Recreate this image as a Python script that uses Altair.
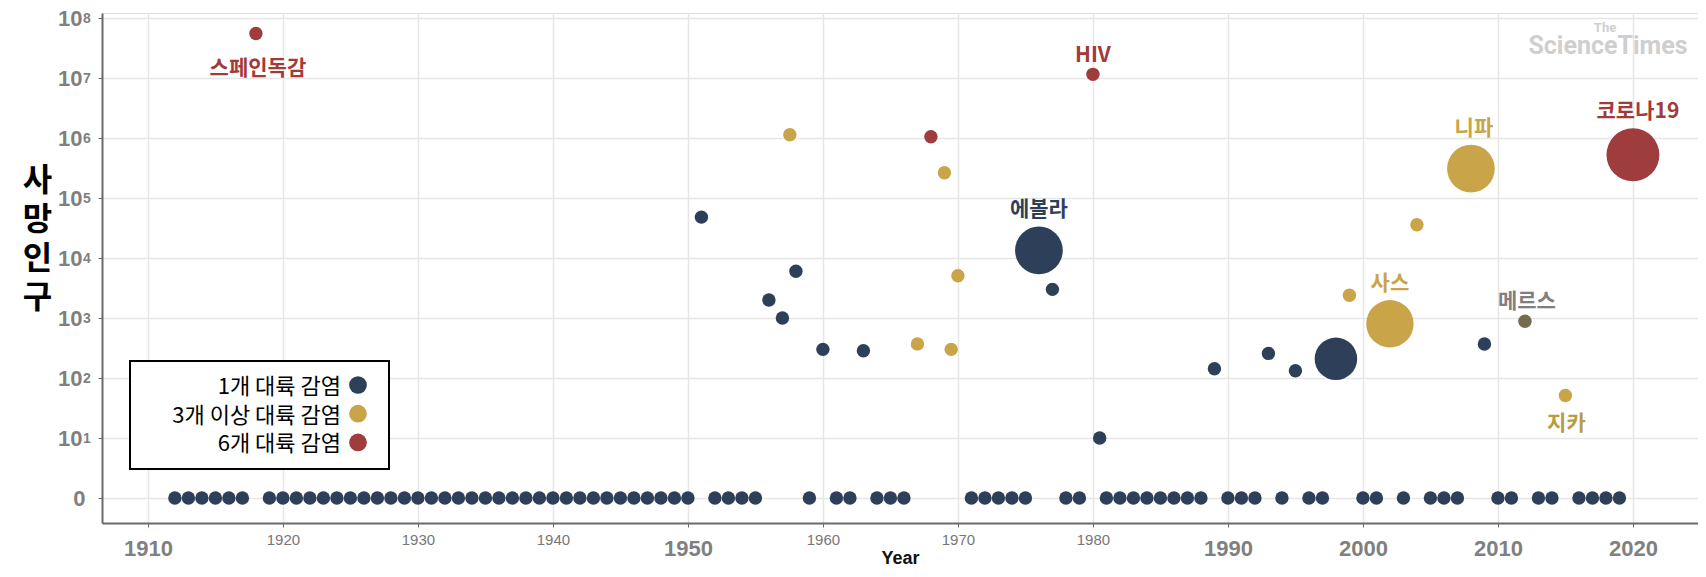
import altair as alt
import pandas as pd

# ---------------- data ----------------
zero_years = [1912, 1913, 1914, 1915, 1916, 1917,
              1919, 1920, 1921, 1922, 1923, 1924, 1925, 1926, 1927, 1928, 1929,
              1930, 1931, 1932, 1933, 1934, 1935, 1936, 1937, 1938, 1939,
              1940, 1941, 1942, 1943, 1944, 1945, 1946, 1947, 1948, 1949, 1950,
              1952, 1953, 1954, 1955, 1959, 1961, 1962, 1964, 1965, 1966,
              1971, 1972, 1973, 1974, 1975, 1978, 1979,
              1981, 1982, 1983, 1984, 1985, 1986, 1987, 1988,
              1990, 1991, 1992, 1994, 1996, 1997, 2000, 2001, 2003,
              2005, 2006, 2007, 2010, 2011, 2013, 2014, 2016, 2017, 2018, 2019]

outbreak_years = [1918, 1951, 1956, 1957, 1957.55, 1958, 1960, 1963, 1967, 1968,
                  1969, 1969.5, 1970, 1976, 1977, 1980, 1980.5, 1989, 1993, 1995,
                  1998, 1999, 2002, 2004, 2008, 2009, 2012, 2015, 2020]
outbreak_deaths = [55000000, 48000, 2000, 1000, 1130000, 6000, 300, 285, 370, 1050000,
                   263000, 300, 5070, 13400, 3000, 11500000, 10, 143, 257, 132,
                   209, 2400, 800, 35900, 309000, 369, 881, 51, 525000]
outbreak_spread = ["6개 대륙 감염", "1개 대륙 감염", "1개 대륙 감염", "1개 대륙 감염",
                   "3개 이상 대륙 감염", "1개 대륙 감염", "1개 대륙 감염", "1개 대륙 감염",
                   "3개 이상 대륙 감염", "6개 대륙 감염", "3개 이상 대륙 감염",
                   "3개 이상 대륙 감염", "3개 이상 대륙 감염", "1개 대륙 감염",
                   "1개 대륙 감염", "6개 대륙 감염", "1개 대륙 감염", "1개 대륙 감염",
                   "1개 대륙 감염", "1개 대륙 감염", "1개 대륙 감염", "3개 이상 대륙 감염",
                   "3개 이상 대륙 감염", "3개 이상 대륙 감염", "3개 이상 대륙 감염",
                   "1개 대륙 감염", "기타", "3개 이상 대륙 감염", "6개 대륙 감염"]
outbreak_impact = [1, 1, 1, 1, 1, 1, 1, 1, 1, 1,
                   1, 1, 1, 8.2, 1, 1, 1, 1, 1, 1,
                   6.6, 1, 8.1, 1, 8.2, 1, 1, 1, 10]
outbreak_names = ["스페인독감", "", "", "", "", "", "", "", "", "",
                  "", "", "", "에볼라", "", "HIV", "", "", "", "",
                  "", "", "사스", "", "니파", "", "메르스", "지카", "코로나19"]

categories = ["1개 대륙 감염", "3개 이상 대륙 감염", "6개 대륙 감염", "기타"]
cat_colors = ["#2e4059", "#c9a449", "#9e3c3e", "#736d4f"]
legend_items = ["1개 대륙 감염", "3개 이상 대륙 감염", "6개 대륙 감염"]

x_ticks = [1910, 1920, 1930, 1940, 1950, 1960, 1970, 1980, 1990, 2000, 2010, 2020]
small_ticks = [1920, 1930, 1940, 1960, 1970, 1980]
y_ticks = [0, 1, 2, 3, 4, 5, 6, 7, 8]
y_exp_ticks = [1, 2, 3, 4, 5, 6, 7, 8]
y_exp_labels = ["1", "2", "3", "4", "5", "6", "7", "8"]

rows = []
for yr in zero_years:
    rows.append({"year": yr, "deaths": 0, "spread": "1개 대륙 감염", "impact": 1, "name": ""})
for yr, d, s, imp, n in zip(outbreak_years, outbreak_deaths, outbreak_spread,
                            outbreak_impact, outbreak_names):
    rows.append({"year": yr, "deaths": d, "spread": s, "impact": imp, "name": n})
df = pd.DataFrame(rows)

# ---------------- chart ----------------
KFONT = "Noto Sans CJK KR"
small_test = "indexof(" + str(small_ticks) + ", datum.value) >= 0"

xscale = alt.Scale(domain=[1906.6, 2024.82], nice=False, zero=False)
yscale = alt.Scale(domain=[-25 / 60, 8 + 5 / 60], nice=False, zero=False)

base = alt.Chart(df).transform_calculate(
    logd="datum.deaths > 0 ? log(datum.deaths) / LN10 : 0"
)

points = base.mark_circle(opacity=1).encode(
    x=alt.X("year:Q", scale=xscale,
            axis=alt.Axis(values=x_ticks, format="d", title="Year",
                          titleFontSize=18, titleFontWeight="bold", titleColor="#111",
                          titleFont="Liberation Sans", titleY=35, titleBaseline="middle",
                          labelFont="Liberation Sans",
                          labelFontSize={"condition": {"test": small_test, "value": 15}, "value": 22},
                          labelFontWeight={"condition": {"test": small_test, "value": "normal"}, "value": "bold"},
                          labelColor={"condition": {"test": small_test, "value": "#777777"}, "value": "#808080"},
                          labelPadding={"condition": {"test": small_test, "value": 5}, "value": 11},
                          gridColor="#e6e6e6", gridWidth=1.5,
                          domainColor="#6b6b6b", domainWidth=2,
                          tickColor="#6b6b6b", tickSize=4)),
    y=alt.Y("logd:Q", scale=yscale,
            axis=alt.Axis(values=y_ticks, labelExpr="datum.value == 0 ? '0' : '10'",
                          title=["사", "망", "인", "구"], titleAngle=0,
                          titleFontSize=32, titleFontWeight="bold", titleColor="#000",
                          titleFont=KFONT, titleLineHeight=39,
                          titleX=-65, titleY=167, titleAlign="center", titleBaseline="middle",
                          labelFont="Liberation Sans", labelFontSize=22, labelFontWeight="bold",
                          labelColor="#808080",
                          labelPadding={"condition": {"test": "datum.value == 0", "value": 13}, "value": 16},
                          gridColor="#e6e6e6", gridWidth=1.5,
                          domainColor="#6b6b6b", domainWidth=2,
                          tickColor="#6b6b6b", tickSize=4)),
    color=alt.Color("spread:N", scale=alt.Scale(domain=categories, range=cat_colors), legend=None),
    size=alt.Size("impact:Q", scale=alt.Scale(domain=[1, 10], range=[180, 2800]), legend=None),
)

# superscript exponents of the y tick labels
exp_df = pd.DataFrame({"tick": y_exp_ticks, "exp": y_exp_labels})
exponents = alt.Chart(exp_df).mark_text(
    font="Liberation Sans", fontSize=14, fontWeight="bold", color="#808080",
    align="left", baseline="top", dy=-6
).encode(x=alt.value(-19), y=alt.Y("tick:Q", scale=yscale), text="exp:N")

label_styles = [
    ("스페인독감", 2, 35, "#a33a3a"),
    ("HIV", 0, -18, "#a33a3a"),
    ("에볼라", 0, -40, "#2e4059"),
    ("니파", 3, -40, "#c9a449"),
    ("사스", 0, -40, "#c9a449"),
    ("메르스", 2, -19, "#7f7f7f"),
    ("지카", 1, 28, "#b89b45"),
    ("코로나19", 5, -43, "#a33a3a"),
]
label_layers = []
for name, dx, dy, col in label_styles:
    label_layers.append(
        base.transform_filter(alt.datum.name == name).mark_text(
            font=KFONT, fontSize=21, fontWeight="bold", color=col,
            dx=dx, dy=dy, baseline="middle", align="center"
        ).encode(x="year:Q", y="logd:Q", text="name:N")
    )

one = pd.DataFrame({"a": [0]})
legend_box = alt.Chart(one).mark_rect(fill="white", stroke="black", strokeWidth=2).encode(
    x=alt.value(28), x2=alt.value(287), y=alt.value(348), y2=alt.value(456)
)
legend_layers = [legend_box]
for i, item in enumerate(legend_items):
    ly = 372 + i * 28.7
    ldf = pd.DataFrame({"spread": [item]})
    legend_layers.append(
        alt.Chart(ldf).mark_circle(opacity=1, size=314).encode(
            x=alt.value(256), y=alt.value(ly),
            color=alt.Color("spread:N", scale=alt.Scale(domain=categories, range=cat_colors), legend=None),
        )
    )
    legend_layers.append(
        alt.Chart(ldf).mark_text(font=KFONT, fontSize=22, align="right", baseline="middle",
                                 color="#000", dy=2).encode(
            x=alt.value(239), y=alt.value(ly), text="spread:N"
        )
    )

logo_the = alt.Chart(one).mark_text(font="Roboto", fontSize=13, fontWeight="bold",
                                    color="#cfcfcf", align="center", baseline="middle").encode(
    x=alt.value(1503), y=alt.value(15), text=alt.value("The"))
logo_main = alt.Chart(one).mark_text(font="Roboto", fontSize=25, fontWeight="bold",
                                     color="#cfcfcf", align="center", baseline="middle").encode(
    x=alt.value(1506), y=alt.value(33), text=alt.value("ScienceTimes"))

chart = alt.layer(points, exponents, *label_layers, *legend_layers, logo_the, logo_main).properties(
    width=1596, height=510,
    autosize=alt.AutoSizeParams(type="none"),
    padding={"left": 94, "top": 5, "right": 0, "bottom": 46},
).configure_view(stroke=None).configure(background="white")

chart.save("out.html", embed_options={"renderer": "svg", "actions": False})
